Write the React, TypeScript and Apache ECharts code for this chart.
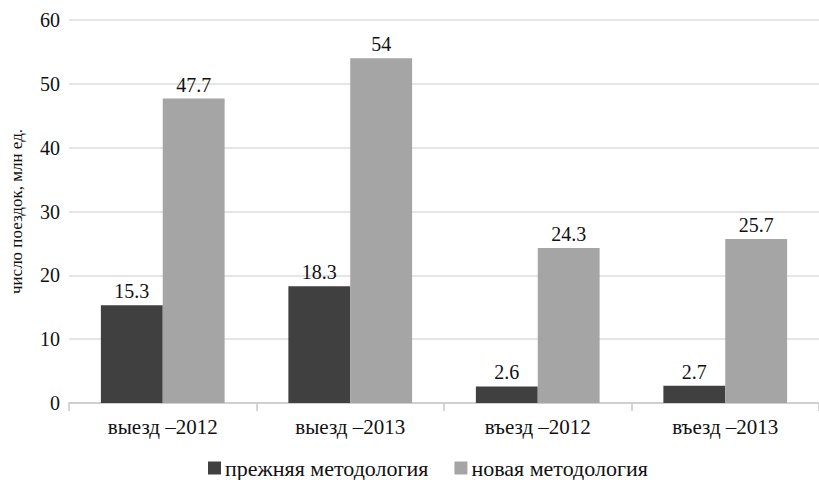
import React, { useEffect, useRef } from "react";
import * as echarts from "echarts";

const categories = ["выезд –2012", "выезд –2013", "въезд –2012", "въезд –2013"];
const oldMethod = [15.3, 18.3, 2.6, 2.7];
const newMethod = [47.7, 54, 24.3, 25.7];
const seriesNames = ["прежняя методология", "новая методология"];
const yAxisName = "число поездок, млн ед.";

export default function App() {
  const ref = useRef<HTMLDivElement>(null);
  useEffect(() => {
    const chart = echarts.init(ref.current!, undefined, { renderer: "svg" });
    const font = "Liberation Serif";
    const label = {
      show: true,
      position: "top",
      color: "#111",
      fontFamily: font,
      fontSize: 20,
      distance: 4,
    };
    chart.setOption({
      animation: false,
      textStyle: { fontFamily: font },
      grid: { left: 69, right: -3, top: 20, bottom: 77 },
      legend: {
        top: 452,
        left: 203,
        itemWidth: 13,
        itemHeight: 13,
        itemGap: 26,
        icon: "rect",
        textStyle: { fontFamily: font, fontSize: 22, color: "#111", padding: [0, 0, 0, -1] },
        data: seriesNames,
      },
      xAxis: {
        type: "category",
        data: categories,
        axisLine: { lineStyle: { color: "#c8c8c8", width: 1.5 } },
        axisTick: { show: true, length: 8, lineStyle: { color: "#c8c8c8", width: 1.5 } },
        axisLabel: { color: "#111", fontFamily: font, fontSize: 21, margin: 13 },
      },
      yAxis: {
        type: "value",
        min: 0,
        max: 60,
        interval: 10,
        name: yAxisName,
        nameLocation: "middle",
        nameGap: 44,
        nameTextStyle: { color: "#111", fontFamily: font, fontSize: 17 },
        axisLine: { show: false },
        axisTick: { show: false },
        axisLabel: { color: "#111", fontFamily: font, fontSize: 20, margin: 9 },
        splitLine: { lineStyle: { color: "#dcdcdc", width: 1.5 } },
      },
      series: [
        {
          name: seriesNames[0],
          type: "bar",
          data: oldMethod,
          itemStyle: { color: "#404040" },
          barGap: "0%",
          barCategoryGap: "34%",
          label,
        },
        {
          name: seriesNames[1],
          type: "bar",
          data: newMethod,
          itemStyle: { color: "#a5a5a5" },
          barGap: "0%",
          barCategoryGap: "34%",
          label,
        },
      ],
    });
    return () => chart.dispose();
  }, []);
  return (
    <div
      ref={ref}
      style={{ position: "absolute", left: 0, top: 0, width: 819, height: 480 }}
    />
  );
}
